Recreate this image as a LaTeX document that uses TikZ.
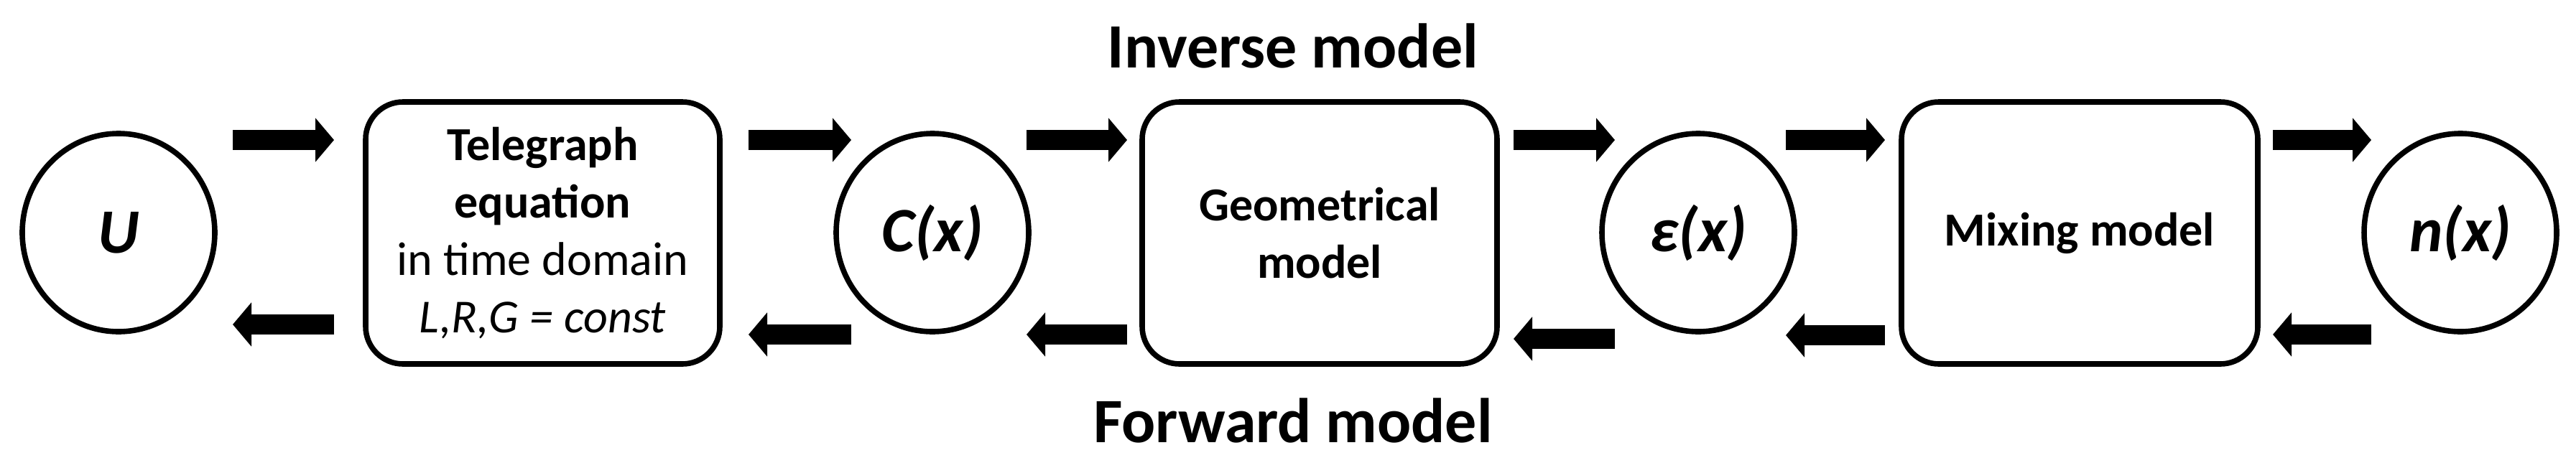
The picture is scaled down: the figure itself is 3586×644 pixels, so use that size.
\documentclass[tikz,border=0pt]{standalone}
\usepackage{fontspec}
\setmainfont{Carlito}
\usetikzlibrary{arrows.meta,shapes.geometric}
\begin{document}
\begin{tikzpicture}[x=0.5pt,y=-0.5pt,
  circ/.style={draw,line width=3.8pt,ellipse,minimum width=134pt,minimum height=138pt,inner sep=0pt,font=\fontsize{44}{50}\selectfont\bfseries\itshape},
  box/.style={draw,line width=3.8pt,rounded corners=26pt,inner sep=0pt,align=center,font=\fontsize{33}{40}\selectfont},
  fat/.style={line width=14pt,-{Triangle[length=13pt,width=30pt]}},
  lbl/.style={font=\fontsize{44}{50}\selectfont\bfseries}]
\useasboundingbox (0,0) rectangle (3586,644);
\node[circ] (u) at (165,324) {U};
\node[box,minimum width=246.5pt,minimum height=182.5pt] (t) at (755.5,324.5) {};
\node[font=\fontsize{33}{40}\selectfont,align=center] (tt) at (755.5,324.5) {\textbf{Telegraph}\\\textbf{equation}\\in time domain\\\textit{L,R,G = const}};
\node[circ] (c) at (1298,324) {C(x)};
\node[box,minimum width=247pt,minimum height=182.5pt] (g) at (1837,324.5) {\textbf{Geometrical}\\\textbf{model}};
\node[circ] (e) at (2364,324) {ε(x)};
\node[box,minimum width=248pt,minimum height=182.5pt] (m) at (2895,324.5) {\textbf{Mixing model}};
\node[circ] (n) at (3425,324) {n(x)};
\node[lbl] (inv) at (1800,64) {Inverse model};
\node[lbl] (fwd) at (1800,586) {Forward model};
\coordinate (a1s) at (324,195); \coordinate (a1e) at (465,195);
\coordinate (a2s) at (1042,195); \coordinate (a2e) at (1185,195);
\coordinate (a3s) at (1429,195); \coordinate (a3e) at (1569,195);
\coordinate (a4s) at (2107,195); \coordinate (a4e) at (2248,195);
\coordinate (a5s) at (2486,195); \coordinate (a5e) at (2624,195);
\coordinate (a6s) at (3164,195); \coordinate (a6e) at (3301,195);
\draw[fat] (a1s) -- (a1e); \draw[fat] (a2s) -- (a2e); \draw[fat] (a3s) -- (a3e);
\draw[fat] (a4s) -- (a4e); \draw[fat] (a5s) -- (a5e); \draw[fat] (a6s) -- (a6e);
\coordinate (b1s) at (465,452); \coordinate (b1e) at (324,452);
\coordinate (b2s) at (1185,466); \coordinate (b2e) at (1042,466);
\coordinate (b3s) at (1569,466); \coordinate (b3e) at (1429,466);
\coordinate (b4s) at (2248,472); \coordinate (b4e) at (2107,472);
\coordinate (b5s) at (2624,467); \coordinate (b5e) at (2486,467);
\coordinate (b6s) at (3301,466); \coordinate (b6e) at (3164,466);
\draw[fat] (b1s) -- (b1e); \draw[fat] (b2s) -- (b2e); \draw[fat] (b3s) -- (b3e);
\draw[fat] (b4s) -- (b4e); \draw[fat] (b5s) -- (b5e); \draw[fat] (b6s) -- (b6e);
\end{tikzpicture}
\end{document}
